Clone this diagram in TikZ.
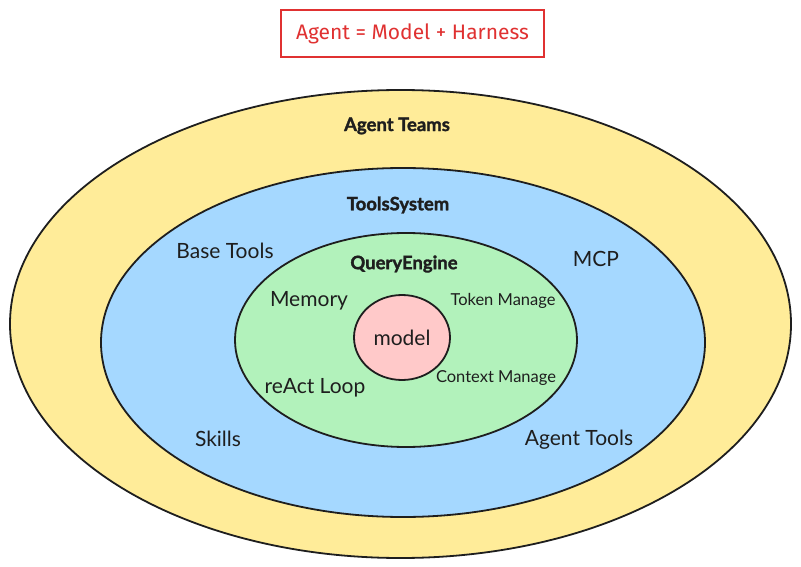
\documentclass[tikz,border=0pt]{standalone}
\usepackage{fontspec}
\setmainfont{Lato}[BoldFeatures={FakeBold=1.6}]
\newfontfamily\handfont{Fira Sans}
\usetikzlibrary{calc,positioning,shapes.geometric}
\definecolor{teamyellow}{HTML}{FFEC99}
\definecolor{toolblue}{HTML}{A5D8FF}
\definecolor{querygreen}{HTML}{B2F2BB}
\definecolor{modelpink}{HTML}{FFC9C9}
\definecolor{titlered}{HTML}{E03131}
\definecolor{inkdark}{HTML}{1E1E1E}
\tikzset{
  ring/.style={draw=inkdark, line width=1.8pt, ellipse, inner sep=0pt},
  layer title/.style={text=inkdark, font=\fontsize{18.5}{20}\selectfont\bfseries},
  part label/.style={text=inkdark, font=\fontsize{21}{23}\selectfont},
  small label/.style={text=inkdark, font=\fontsize{16.5}{18}\selectfont}
}

\begin{document}
\begin{tikzpicture}[x=1pt,y=-1pt]

  \useasboundingbox [fill=white] (0,0) rectangle (801,567);

  % title box
  \node [draw=titlered, line width=1.5pt, rectangle, minimum width=263pt, minimum height=47pt, text=titlered, font=\handfont\fontsize{21}{23}\selectfont] at(412.5,33.5) (title) {Agent = Model + Harness};

  % the rings, outside in
  \node [ring, fill=teamyellow, minimum width=781pt, minimum height=468pt] at(400.5,324) (teams) {};
  \node [ring, fill=toolblue, minimum width=604pt, minimum height=349pt] at(403,342.5) (tools) {};
  \node [ring, fill=querygreen, minimum width=342pt, minimum height=214pt] at(406,340) (query) {};
  \node [ring, fill=modelpink, minimum width=96pt, minimum height=85pt, part label] at(402,337.5) (model) {model};

  \node [layer title] at($(teams) + (-3.5,-198)$) (teamsname) {Agent Teams};

  \node [layer title] at($(tools) + (-5,-137.5)$) (toolsname) {ToolsSystem};
  \node [part label] at($(tools) + (-178,-91.5)$) (basetools) {Base Tools};
  \node [part label] at($(tools) + (193,-83.5)$) (mcp) {MCP};
  \node [part label] at($(tools) + (-185,96.5)$) (skills) {Skills};
  \node [part label] at($(tools) + (176,97)$) (agenttools) {Agent Tools};

  \node [layer title] at($(query) + (-2,-76)$) (queryname) {QueryEngine};
  \node [part label] at($(query) + (-97,-39)$) (memory) {Memory};
  \node [small label] at($(query) + (97,-39.5)$) (token) {Token Manage};
  \node [part label] at($(query) + (-91,48)$) (react) {reAct Loop};
  \node [small label] at($(query) + (90,38.5)$) (context) {Context Manage};

\end{tikzpicture}
\end{document}
